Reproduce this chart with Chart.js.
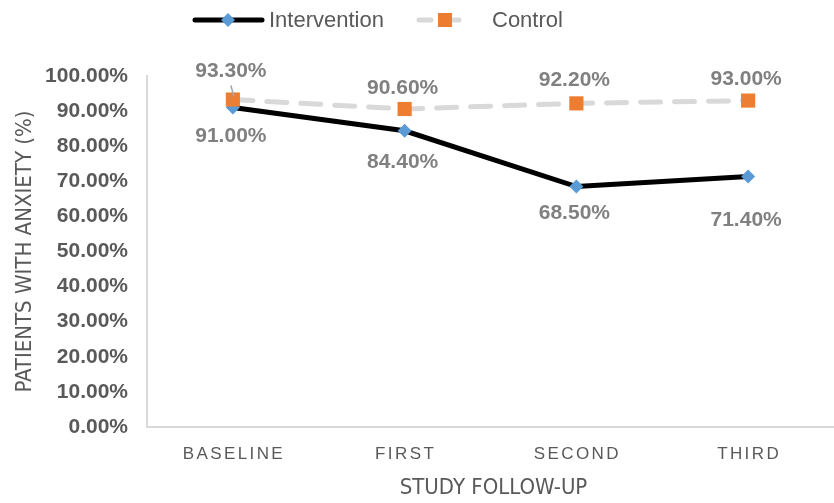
<!DOCTYPE html>
<html>
<head>
<meta charset="utf-8">
<script src="https://cdn.jsdelivr.net/npm/chart.js@4.4.1/dist/chart.umd.min.js"></script>
<style>
  html, body { margin: 0; padding: 0; background: #fff; }
  #wrap { width: 834px; height: 503px; }
</style>
</head>
<body>
<div id="wrap"><canvas id="chart"></canvas></div>
<script>
// values
const followUps = ["BASELINE", "FIRST", "SECOND", "THIRD"];
const interventionPct = [91.0, 84.4, 68.5, 71.4];
const controlPct = [93.3, 90.6, 92.2, 93.0];
const yMin = 0;
const yMax = 100;
const yStep = 10;

const SANS = "'Liberation Sans', Arial, sans-serif";
const NARROW = "'Liberation Sans Narrow', 'Arial Narrow', 'DejaVu Sans Condensed', sans-serif";
const TEXT_DARK = "#595959";
const TEXT_LABEL = "#808080";

// vertical nudge of each value label from its marker (px)
const interventionLabelDy = [29, 31, 27, 44];
const controlLabelDy = [-28, -21, -23, -21];

const pct = (v) => v.toFixed(2) + "%";

function diamond(ctx, x, y, r, color) {
  ctx.beginPath();
  ctx.moveTo(x, y - r);
  ctx.lineTo(x + r, y);
  ctx.lineTo(x, y + r);
  ctx.lineTo(x - r, y);
  ctx.closePath();
  ctx.fillStyle = color;
  ctx.fill();
}

const labelsPlugin = {
  id: "valueLabels",
  afterDatasetsDraw(chart) {
    const ctx = chart.ctx;
    ctx.save();
    ctx.font = "bold 21px " + SANS;
    ctx.fillStyle = TEXT_LABEL;
    ctx.textAlign = "center";
    ctx.textBaseline = "middle";
    chart.data.datasets.forEach((ds, di) => {
      const meta = chart.getDatasetMeta(di);
      meta.data.forEach((pt, i) => {
        const dy = ds.labelDy[i];
        if (ds.leader && ds.leader[i]) {
          ctx.strokeStyle = "#a6a6a6";
          ctx.lineWidth = 1.5;
          ctx.beginPath();
          ctx.moveTo(pt.x - 2, pt.y + dy + 14);
          ctx.lineTo(pt.x + 1, pt.y - 3);
          ctx.stroke();
        }
        ctx.fillText(pct(ds.data[i]), pt.x - 2, pt.y + dy);
      });
    });
    ctx.restore();
  }
};

const xLabelsPlugin = {
  id: "spacedXLabels",
  afterDraw(chart) {
    const ctx = chart.ctx;
    const x = chart.scales.x;
    ctx.save();
    ctx.fillStyle = TEXT_DARK;
    ctx.textAlign = "center";
    ctx.textBaseline = "middle";
    ctx.font = "17px " + SANS;
    ctx.letterSpacing = "2.4px";
    followUps.forEach((lab, i) => {
      ctx.fillText(lab, x.getPixelForValue(i) + 1, x.top + 27);
    });
    ctx.letterSpacing = "0px";
    ctx.font = "22px " + NARROW;
    ctx.fillText("STUDY FOLLOW-UP", (chart.chartArea.left + chart.chartArea.right) / 2 + 3, x.top + 61);
    ctx.restore();
  }
};

const legendPlugin = {
  id: "lineLegend",
  afterDraw(chart) {
    const ctx = chart.ctx;
    const y = 20;
    ctx.save();
    ctx.lineCap = "round";
    // Intervention
    ctx.strokeStyle = "#000";
    ctx.lineWidth = 5;
    ctx.beginPath();
    ctx.moveTo(195, y);
    ctx.lineTo(262, y);
    ctx.stroke();
    diamond(ctx, 228, y, 7, "#5b9bd5");
    // Control
    ctx.strokeStyle = "#d9d9d9";
    ctx.lineWidth = 5;
    ctx.setLineDash([12, 16]);
    ctx.beginPath();
    ctx.moveTo(419, y);
    ctx.lineTo(472, y);
    ctx.stroke();
    ctx.setLineDash([]);
    ctx.fillStyle = "#ed7d31";
    ctx.fillRect(438, y - 7, 14, 14);
    ctx.fillStyle = TEXT_DARK;
    ctx.font = "22px " + SANS;
    ctx.textBaseline = "middle";
    ctx.fillText("Intervention", 269, y + 1);
    ctx.fillText("Control", 492, y + 1);
    ctx.restore();
  }
};

new Chart(document.getElementById("chart"), {
  type: "line",
  data: {
    labels: followUps,
    datasets: [
      {
        label: "Intervention",
        data: interventionPct,
        borderColor: "#000000",
        borderWidth: 5,
        pointStyle: "rectRot",
        pointRadius: 7,
        pointBackgroundColor: "#5b9bd5",
        pointBorderWidth: 0,
        tension: 0,
        order: 1,
        labelDy: interventionLabelDy
      },
      {
        label: "Control",
        data: controlPct,
        borderColor: "#d9d9d9",
        borderWidth: 5,
        borderDash: [20, 14],
        borderCapStyle: "round",
        pointStyle: "rect",
        pointRadius: 10,
        pointBackgroundColor: "#ed7d31",
        pointBorderWidth: 0,
        tension: 0,
        order: 0,
        labelDy: controlLabelDy,
        leader: [true, false, false, false]
      }
    ]
  },
  options: {
    responsive: true,
    maintainAspectRatio: false,
    animation: false,
    devicePixelRatio: 1,
    layout: { autoPadding: false, padding: { top: 76, right: -4, left: 0, bottom: 0 } },
    plugins: {
      legend: { display: false },
      tooltip: { enabled: false }
    },
    scales: {
      x: {
        offset: true,
        grid: { color: "transparent", drawTicks: false },
        border: { color: "#d9d9d9", width: 2 },
        ticks: { display: false },
        afterFit(scale) { scale.height = 76; }
      },
      y: {
        min: yMin,
        max: yMax,
        grid: { color: "transparent", drawTicks: false },
        border: { color: "#d9d9d9", width: 2 },
        ticks: {
          stepSize: yStep,
          color: TEXT_DARK,
          padding: 19,
          font: { family: SANS, size: 21, weight: "bold" },
          callback: (v) => pct(v)
        },
        title: {
          display: true,
          text: "PATIENTS WITH ANXIETY (%)",
          color: TEXT_DARK,
          font: { family: NARROW, size: 22 },
          padding: { top: 12, bottom: 0 }
        },
        afterFit(scale) { scale.width = 147; }
      }
    }
  },
  plugins: [labelsPlugin, xLabelsPlugin, legendPlugin]
});
</script>
</body>
</html>
